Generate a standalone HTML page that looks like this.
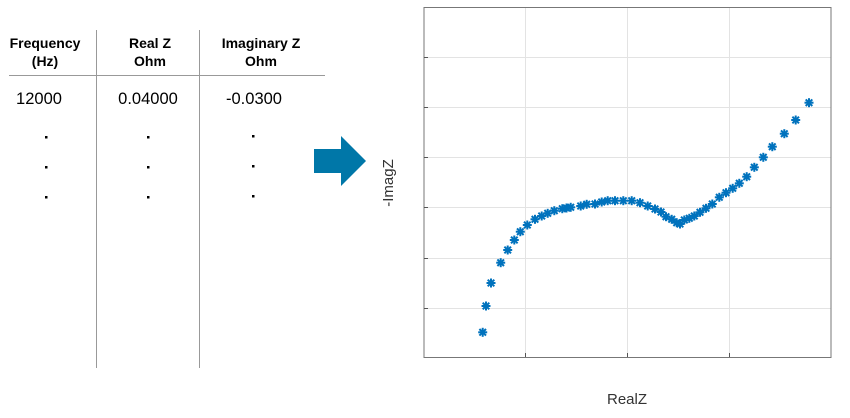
<!DOCTYPE html>
<html><head><meta charset="utf-8"><style>
html,body{margin:0;padding:0;background:#fff;}
svg{display:block;font-family:"Liberation Sans",Arial,sans-serif;}
</style></head><body>
<svg width="850" height="418" viewBox="0 0 850 418" xmlns="http://www.w3.org/2000/svg">
<defs>
<g id="m" stroke="#0072BD" stroke-width="2" fill="none">
<line x1="-4.5" y1="0" x2="4.5" y2="0"/><line x1="0" y1="-4.5" x2="0" y2="4.5"/>
<line x1="-3.3" y1="-3.3" x2="3.3" y2="3.3"/><line x1="-3.3" y1="3.3" x2="3.3" y2="-3.3"/>
</g>
</defs>
<g fill="#000" text-anchor="middle">
<text x="45" y="48" font-size="14" font-weight="bold">Frequency</text>
<text x="45" y="66" font-size="14" font-weight="bold">(Hz)</text>
<text x="150" y="48" font-size="14" font-weight="bold">Real Z</text>
<text x="150" y="66" font-size="14" font-weight="bold">Ohm</text>
<text x="261" y="48" font-size="14" font-weight="bold">Imaginary Z</text>
<text x="261" y="66" font-size="14" font-weight="bold">Ohm</text>
<text x="39" y="104" font-size="16.5">12000</text>
<text x="148" y="104" font-size="16.5">0.04000</text>
<text x="254" y="104" font-size="16.5">-0.0300</text>
</g>
<g fill="#000">
<rect x="45" y="136" width="2.5" height="2.5"/><rect x="147" y="136" width="2.5" height="2.5"/><rect x="252" y="135" width="2.5" height="2.5"/>
<rect x="45" y="166" width="2.5" height="2.5"/><rect x="147" y="166" width="2.5" height="2.5"/><rect x="252" y="165" width="2.5" height="2.5"/>
<rect x="45" y="196" width="2.5" height="2.5"/><rect x="147" y="196" width="2.5" height="2.5"/><rect x="252" y="195" width="2.5" height="2.5"/>
</g>
<g stroke="#999" stroke-width="1">
<line x1="96.5" y1="30" x2="96.5" y2="368"/>
<line x1="199.5" y1="30" x2="199.5" y2="368"/>
<line x1="9" y1="75.5" x2="325" y2="75.5"/>
</g>
<polygon points="314,149 341,149 341,136 366,161 341,186 341,173 314,173" fill="#0077A8"/>
<g stroke="#e3e3e3" stroke-width="1">
<line x1="525.5" y1="8" x2="525.5" y2="357"/><line x1="627.5" y1="8" x2="627.5" y2="357"/><line x1="729.5" y1="8" x2="729.5" y2="357"/>
<line x1="424" y1="57.5" x2="831" y2="57.5"/><line x1="424" y1="107.5" x2="831" y2="107.5"/><line x1="424" y1="157.5" x2="831" y2="157.5"/>
<line x1="424" y1="207.5" x2="831" y2="207.5"/><line x1="424" y1="258.5" x2="831" y2="258.5"/><line x1="424" y1="308.5" x2="831" y2="308.5"/>
</g>
<rect x="424" y="7.5" width="407" height="350" fill="none" stroke="#777" stroke-width="1"/>
<g stroke="#555" stroke-width="1">
<line x1="525.5" y1="357" x2="525.5" y2="353"/><line x1="627.5" y1="357" x2="627.5" y2="353"/><line x1="729.5" y1="357" x2="729.5" y2="353"/>
<line x1="424" y1="57.5" x2="428" y2="57.5"/><line x1="424" y1="107.5" x2="428" y2="107.5"/><line x1="424" y1="157.5" x2="428" y2="157.5"/>
<line x1="424" y1="207.5" x2="428" y2="207.5"/><line x1="424" y1="258.5" x2="428" y2="258.5"/><line x1="424" y1="308.5" x2="428" y2="308.5"/>
</g>
<text x="627" y="404" font-size="15" fill="#333" text-anchor="middle">RealZ</text>
<text transform="translate(393,183) rotate(-90)" font-size="15" fill="#333" text-anchor="middle">-ImagZ</text>
<g>
<use href="#m" x="482.7" y="332.3"/><use href="#m" x="486" y="306"/><use href="#m" x="491" y="283"/>
<use href="#m" x="500.7" y="262.7"/><use href="#m" x="507.7" y="250"/><use href="#m" x="514.3" y="240"/>
<use href="#m" x="520.3" y="231.7"/><use href="#m" x="527.3" y="225"/><use href="#m" x="535" y="219.3"/>
<use href="#m" x="541.7" y="216"/><use href="#m" x="547.7" y="213.3"/><use href="#m" x="554.3" y="210.7"/>
<use href="#m" x="562.3" y="208.7"/><use href="#m" x="566.5" y="208"/><use href="#m" x="570.7" y="207.3"/>
<use href="#m" x="580.7" y="206"/><use href="#m" x="586.7" y="204.3"/><use href="#m" x="595" y="204"/>
<use href="#m" x="601.7" y="202"/><use href="#m" x="607.7" y="200.7"/><use href="#m" x="615" y="200.7"/>
<use href="#m" x="623.3" y="200.7"/><use href="#m" x="631.7" y="200.7"/><use href="#m" x="640" y="202.7"/>
<use href="#m" x="647.7" y="206"/><use href="#m" x="655" y="209"/><use href="#m" x="661" y="212"/>
<use href="#m" x="666" y="216.7"/><use href="#m" x="671.7" y="219.3"/><use href="#m" x="676.7" y="222.7"/>
<use href="#m" x="680" y="224"/><use href="#m" x="684.3" y="220"/><use href="#m" x="689.3" y="218.3"/>
<use href="#m" x="694.3" y="216"/><use href="#m" x="700" y="212.3"/><use href="#m" x="706" y="208.3"/>
<use href="#m" x="712.3" y="204"/><use href="#m" x="719.3" y="197.3"/><use href="#m" x="726" y="192.7"/>
<use href="#m" x="732.7" y="188.3"/><use href="#m" x="739.3" y="183.3"/><use href="#m" x="746.7" y="176.7"/>
<use href="#m" x="754.3" y="167.3"/><use href="#m" x="763.3" y="157.3"/><use href="#m" x="772.3" y="146.7"/>
<use href="#m" x="784.3" y="133.7"/><use href="#m" x="795.7" y="120"/><use href="#m" x="809" y="102.7"/>
</g>
</svg>
</body></html>
